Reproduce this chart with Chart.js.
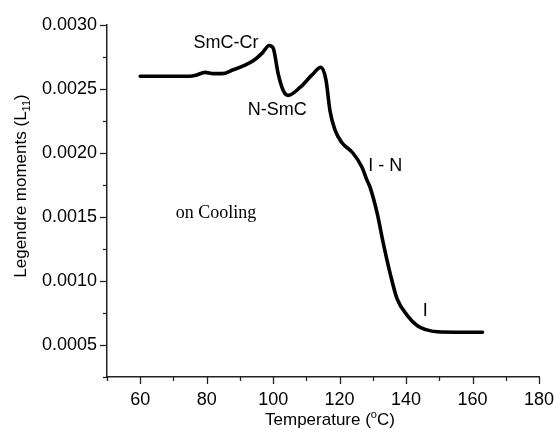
<!DOCTYPE html>
<html>
<head>
<meta charset="utf-8">
<script src="https://cdn.jsdelivr.net/npm/chart.js@4.4.0/dist/chart.umd.min.js"></script>
<style>
  html, body { margin: 0; padding: 0; background: #fff; }
  #wrap { width: 554px; height: 430px; }
</style>
</head>
<body>
<div id="wrap"><canvas id="chart"></canvas></div>
<script>
// temperature (°C) and Legendre moment L11
var temps = [60, 65, 70, 75, 77, 79.5, 82, 84.6, 88, 91, 94, 96.7, 98.8, 100, 101.5, 103, 104.5, 108, 111.7, 114.4, 115.9, 117.1, 118.6, 120.7, 124, 126.7, 128.2, 129.2, 131.3, 133.1, 135.2, 137.3, 140.4, 143.4, 146, 149.4, 155, 163];
var moments = [0.0026, 0.0026, 0.0026, 0.0026, 0.00261, 0.00263, 0.00262, 0.00262, 0.00265, 0.00268, 0.00272, 0.00278, 0.00284, 0.00282, 0.00262, 0.00249, 0.00245, 0.00251, 0.00261, 0.00267, 0.00257, 0.00233, 0.00218, 0.00208, 0.0020, 0.00189, 0.00179, 0.00173, 0.00153, 0.0013, 0.00106, 0.00086, 0.00073, 0.00065, 0.00062, 0.000603, 0.0006, 0.0006];

var xTicks = [60, 80, 100, 120, 140, 160, 180];
var yTicks = [0.0005, 0.0010, 0.0015, 0.0020, 0.0025, 0.0030];

var sans = '"Liberation Sans", Arial, sans-serif';

// phase labels, placed in data units
var notes = [
  {text: 'SmC-Cr', x: 85.8, y: 0.00286, font: '18px ' + sans},
  {text: 'N-SmC', x: 101.2, y: 0.002334, font: '18px ' + sans},
  {text: 'I - N', x: 133.7, y: 0.0019, font: '18px ' + sans},
  {text: 'I', x: 145.8, y: 0.000767, font: '18px ' + sans},
  {text: 'on Cooling', x: 82.8, y: 0.001527, font: '18px "Liberation Serif", "Times New Roman", serif'}
];

var points = temps.map(function(t, i){ return {x: t, y: moments[i]}; });

function drawParts(ctx, parts, size) {
  // parts: [text, scale, shift]
  var total = 0;
  parts.forEach(function(p){
    ctx.font = (size * p[1]) + 'px ' + sans;
    total += ctx.measureText(p[0]).width;
  });
  var x = -total / 2;
  parts.forEach(function(p){
    ctx.font = (size * p[1]) + 'px ' + sans;
    ctx.fillText(p[0], x, p[2]);
    x += ctx.measureText(p[0]).width;
  });
}

var extras = {
  id: 'extras',
  afterDraw: function(chart) {
    var ctx = chart.ctx;
    var xs = chart.scales.x, ys = chart.scales.y;
    ctx.save();
    ctx.strokeStyle = '#222';
    ctx.lineWidth = 1.3;
    // outward tick marks, long on labelled values
    xs.ticks.forEach(function(t){
      var px = Math.round(xs.getPixelForValue(t.value)) + 0.5;
      var len = xTicks.indexOf(t.value) >= 0 ? 7 : 4;
      ctx.beginPath();
      ctx.moveTo(px, xs.top);
      ctx.lineTo(px, xs.top + len);
      ctx.stroke();
    });
    ys.ticks.forEach(function(t){
      var py = Math.round(ys.getPixelForValue(t.value)) + 0.5;
      var major = Math.round(t.value / 0.00025) % 2 === 0;
      var len = major ? 7 : 4;
      ctx.beginPath();
      ctx.moveTo(ys.right, py);
      ctx.lineTo(ys.right - len, py);
      ctx.stroke();
    });

    ctx.fillStyle = '#000';
    ctx.textBaseline = 'middle';
    ctx.textAlign = 'center';
    notes.forEach(function(n){
      ctx.font = n.font;
      ctx.fillText(n.text, xs.getPixelForValue(n.x), ys.getPixelForValue(n.y));
    });

    // axis titles with sub/superscripts
    ctx.textAlign = 'left';
    ctx.textBaseline = 'alphabetic';
    ctx.save();
    ctx.translate(330, 425);
    drawParts(ctx, [['Temperature (', 1, 0], ['o', 0.65, -7], ['C)', 1, 0]], 17);
    ctx.restore();

    ctx.save();
    ctx.translate(26, 186);
    ctx.rotate(-Math.PI / 2);
    drawParts(ctx, [['Legendre moments (L', 1, 0], ['11', 0.65, 4], [')', 1, 0]], 17);
    ctx.restore();
    ctx.restore();
  }
};

new Chart(document.getElementById('chart'), {
  type: 'line',
  data: {
    datasets: [{
      data: points,
      borderColor: '#000',
      borderWidth: 3.6,
      pointRadius: 0,
      fill: false,
      cubicInterpolationMode: 'monotone',
      borderCapStyle: 'round'
    }]
  },
  options: {
    responsive: true,
    maintainAspectRatio: false,
    animation: false,
    events: [],
    layout: { padding: { top: 25, right: 15, left: 0, bottom: 0 } },
    plugins: { legend: { display: false }, tooltip: { enabled: false } },
    scales: {
      x: {
        type: 'linear',
        min: 50, max: 180,
        afterFit: function(s){ s.height = 53; s.paddingLeft = 0; s.paddingRight = 0; },
        border: { display: true, color: '#222', width: 1.5 },
        grid: { drawOnChartArea: false, drawTicks: false },
        ticks: {
          stepSize: 10,
          padding: 12,
          color: '#000',
          font: { family: sans, size: 18 },
          maxRotation: 0,
          autoSkip: false,
          callback: function(v){ return xTicks.indexOf(v) >= 0 ? v : ''; }
        }
      },
      y: {
        type: 'linear',
        min: 0.00025, max: 0.0030,
        afterFit: function(s){ s.width = 107; s.paddingTop = 0; s.paddingBottom = 0; },
        border: { display: true, color: '#222', width: 1.5 },
        grid: { drawOnChartArea: false, drawTicks: false },
        ticks: {
          stepSize: 0.00025,
          padding: 10,
          color: '#000',
          font: { family: sans, size: 18 },
          autoSkip: false,
          callback: function(v){
            return Math.round(v / 0.00025) % 2 === 0 ? v.toFixed(4) : '';
          }
        }
      }
    }
  },
  plugins: [extras]
});
</script>
</body>
</html>
